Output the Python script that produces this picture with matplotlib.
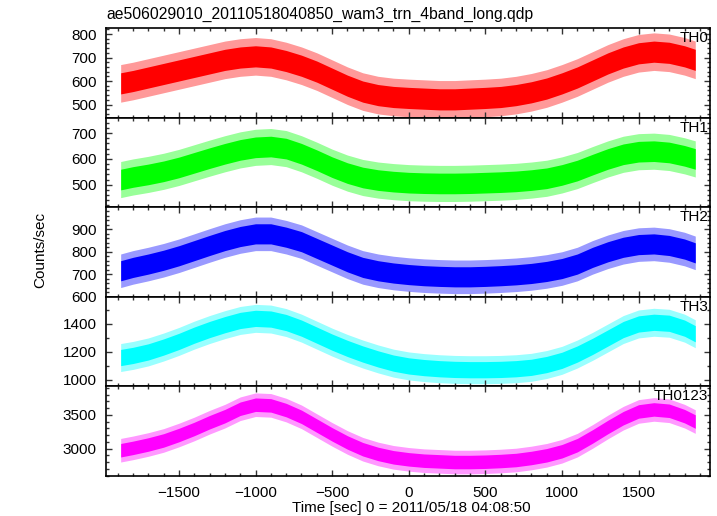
import matplotlib
matplotlib.use("Agg")
import matplotlib.pyplot as plt
from matplotlib.ticker import MultipleLocator

# time grid [sec], relative to 2011/05/18 04:08:50
time = [-1880, -1800, -1700, -1600, -1500, -1400, -1300, -1200, -1100, -1000,
        -900, -800, -700, -600, -500, -400, -300, -200, -100, 0,
        100, 200, 300, 400, 500, 600, 700, 800, 900, 1000,
        1100, 1200, 1300, 1400, 1500, 1600, 1700, 1800, 1870]

# mean count rate
th0 = [590, 600, 615, 630, 645, 660, 675, 690, 700, 705,
       700, 685, 665, 640, 610, 580, 555, 540, 532, 528,
       525, 522, 522, 525, 528, 532, 540, 552, 568, 590,
       615, 645, 675, 700, 718, 725, 720, 705, 690]
th1 = [520, 530, 540, 552, 567, 585, 603, 620, 635, 645,
       648, 640, 620, 595, 568, 545, 528, 518, 512, 508,
       506, 505, 505, 506, 508, 510, 513, 518, 525, 538,
       555, 578, 600, 618, 628, 630, 625, 612, 600]
th2 = [715, 730, 745, 762, 782, 805, 828, 850, 868, 880,
       880, 865, 845, 815, 785, 755, 730, 715, 705, 698,
       693, 690, 688, 688, 690, 693, 697, 703, 712, 725,
       745, 775, 800, 820, 832, 835, 828, 812, 795]
th3 = [1160, 1175, 1200, 1235, 1275, 1320, 1360, 1395, 1425, 1440,
       1435, 1410, 1370, 1320, 1270, 1225, 1185, 1150, 1120, 1100,
       1088, 1080, 1075, 1073, 1073, 1075, 1080, 1090, 1110, 1140,
       1185, 1240, 1300, 1360, 1400, 1412, 1405, 1370, 1330]
th0123 = [2975, 3010, 3060, 3120, 3200, 3290, 3390, 3480, 3590, 3650,
          3640, 3570, 3470, 3340, 3210, 3090, 2990, 2920, 2870, 2840,
          2820, 2810, 2800, 2800, 2805, 2815, 2830, 2860, 2900, 2960,
          3050, 3180, 3320, 3450, 3550, 3580, 3560, 3480, 3400]

# scatter of the points around the mean: full extent and dense core
spread_full = [80, 70, 75, 100, 175]
spread_core = [45, 40, 45, 58, 100]

names = ["TH0", "TH1", "TH2", "TH3", "TH0123"]
series = [th0, th1, th2, th3, th0123]
colors = ["#ff0000", "#00ff00", "#0000ff", "#00ffff", "#ff00ff"]
ylims = [(443, 824), (412, 759), (598, 998), (953, 1593), (2593, 3920)]
ymajor = [100, 100, 100, 200, 500]
yminor = [20, 20, 20, 100, 100]

plt.rcParams["font.family"] = ["Liberation Sans", "DejaVu Sans"]
plt.rcParams["font.size"] = 11

fig, axes = plt.subplots(5, 1, figsize=(7.17, 5.16), dpi=100, sharex=True)
fig.subplots_adjust(left=0.148, right=0.990, top=0.945, bottom=0.0775, hspace=0)

for i, ax in enumerate(axes):
    y = series[i]
    lo_f = [v - spread_full[i] for v in y]
    hi_f = [v + spread_full[i] for v in y]
    lo_c = [v - spread_core[i] for v in y]
    hi_c = [v + spread_core[i] for v in y]
    ax.fill_between(time, lo_f, hi_f, color=colors[i], alpha=0.4, lw=0)
    ax.fill_between(time, lo_c, hi_c, color=colors[i], lw=0)
    ax.set_xlim(-1975, 1965)
    ax.set_ylim(*ylims[i])
    ax.xaxis.set_major_locator(MultipleLocator(500))
    ax.xaxis.set_minor_locator(MultipleLocator(100))
    ax.yaxis.set_major_locator(MultipleLocator(ymajor[i]))
    ax.yaxis.set_minor_locator(MultipleLocator(yminor[i]))
    ax.tick_params(which="both", direction="in", top=True, right=True,
                   labelsize=11, width=1, color="#333333")
    ax.tick_params(which="major", length=4.5, pad=7)
    ax.tick_params(which="minor", length=2.5)
    for s in ax.spines.values():
        s.set_linewidth(1.2)
    ax.text(0.997, 0.97, names[i], transform=ax.transAxes, ha="right",
            va="top", fontsize=11, zorder=5)

axes[0].set_title("ae506029010_20110518040850_wam3_trn_4band_long.qdp",
                  loc="left", fontsize=11.3, pad=7)
fig.text(40 / 717, 1 - 250 / 516, "Counts/sec", rotation=90,
         ha="center", va="center", fontsize=11)
fig.text(411 / 717, 1 - 508 / 516, "Time [sec] 0 = 2011/05/18 04:08:50",
         ha="center", va="center", fontsize=11)

fig.savefig("out.png", dpi=100)
